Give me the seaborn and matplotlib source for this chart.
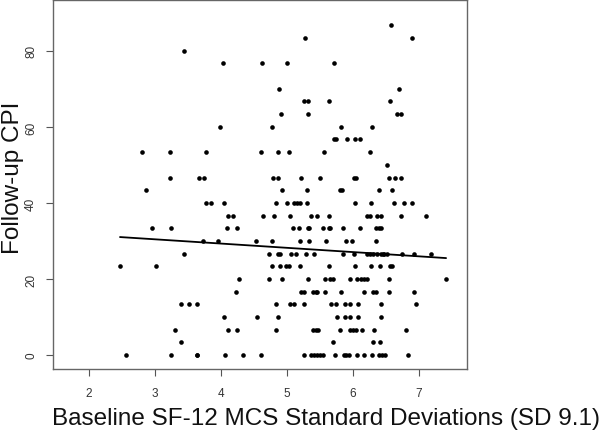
import matplotlib
matplotlib.use("Agg")
import matplotlib.pyplot as plt
import seaborn as sns
import pandas as pd

# --- data: baseline MCS (SD units) for each follow-up CPI level ---
cpi_levels = [86.7, 83.3, 80.0, 76.7, 70.0, 66.7, 63.3, 60.0, 56.7, 53.3, 50.0,
              46.7, 43.3, 40.0, 36.7, 33.3, 30.0, 26.7, 23.3, 20.0, 16.7,
              13.3, 10.0, 6.67, 3.33, 0.0]

mcs_by_level = [
    [6.57],
    [5.28, 6.90],
    [3.44],
    [4.03, 4.62, 5.00, 5.71],
    [4.88, 6.69],
    [5.26, 5.32, 5.64, 6.56],
    [4.91, 5.32, 6.67, 6.73],
    [3.99, 4.78, 5.82, 6.29],
    [5.71, 5.74, 5.91, 6.03, 6.11],
    [2.80, 3.23, 3.77, 4.61, 4.87, 5.03, 5.56, 6.25],
    [6.51],
    [3.22, 3.66, 3.75, 4.79, 4.86, 5.21, 5.50, 6.02, 6.05, 6.55, 6.64, 6.72],
    [2.86, 4.93, 5.31, 5.80, 5.83, 6.40, 6.59],
    [3.78, 3.85, 4.04, 4.84, 5.00, 5.11, 5.15, 5.19, 5.31, 6.03, 6.28, 6.62,
     6.77, 6.90],
    [4.10, 4.18, 4.63, 4.80, 5.05, 5.36, 5.46, 5.63, 6.21, 6.25, 6.36, 6.43,
     6.73, 7.11],
    [2.95, 3.24, 4.09, 4.25, 5.09, 5.18, 5.32, 5.34, 5.54, 5.63, 5.65, 5.85,
     6.10, 6.35, 6.39, 6.42],
    [3.72, 3.95, 4.53, 4.77, 5.20, 5.34, 5.59, 5.90, 5.99, 6.35],
    [3.44, 4.72, 4.87, 4.89, 5.06, 5.13, 5.29, 5.41, 5.85, 6.01, 6.21, 6.26,
     6.31, 6.36, 6.42, 6.45, 6.47, 6.52, 6.74, 6.92, 7.18],
    [2.47, 3.02, 4.77, 4.89, 4.99, 5.03, 5.20, 5.64, 6.03, 6.28, 6.41, 6.56,
     6.59],
    [4.27, 4.72, 4.92, 5.32, 5.57, 5.65, 5.70, 5.96, 6.06, 6.12, 6.16, 6.21,
     6.55, 7.41],
    [4.23, 5.21, 5.26, 5.40, 5.44, 5.46, 5.58, 5.82, 6.16, 6.31, 6.35, 6.55,
     6.92],
    [3.40, 3.52, 3.64, 4.84, 5.05, 5.11, 5.26, 5.66, 5.74, 5.88, 5.96, 6.08,
     6.42, 6.95],
    [4.04, 4.55, 4.87, 5.75, 5.88, 5.96, 6.08, 6.43],
    [3.31, 4.10, 4.25, 4.84, 5.40, 5.44, 5.47, 5.80, 5.95, 6.00, 6.05, 6.14,
     6.32, 6.81],
    [3.40, 5.70, 6.30, 6.41],
    [2.56, 3.24, 3.63, 3.64, 4.06, 4.33, 4.61, 5.26, 5.37, 5.41, 5.45, 5.50,
     5.54, 5.73, 5.86, 5.90, 5.94, 6.06, 6.16, 6.29, 6.39, 6.44, 6.49, 6.84],
]

# fitted line from the original model
fit_intercept = 33.8
fit_slope = -1.12

x_ticks = [2, 3, 4, 5, 6, 7]
y_ticks = [0, 20, 40, 60, 80]

rows = []
for level, xs in zip(cpi_levels, mcs_by_level):
    for v in xs:
        rows.append({"mcs": v, "cpi": level})
df = pd.DataFrame(rows)

line_x = [df["mcs"].min(), df["mcs"].max()]
line_df = pd.DataFrame({"mcs": line_x,
                        "cpi": [fit_intercept + fit_slope * v for v in line_x]})

# --- plot ---
sns.set_style("white")
plt.rcParams["font.family"] = ["Liberation Sans", "DejaVu Sans"]

fig = plt.figure(figsize=(6.13, 4.35), dpi=100)
ax = fig.add_axes([53 / 613, 1 - 370 / 435, 414 / 613, 369 / 435])

sns.scatterplot(data=df, x="mcs", y="cpi", color="black", s=11,
                linewidth=0, ax=ax)
sns.lineplot(data=line_df, x="mcs", y="cpi", color="black", linewidth=1.3,
             ax=ax)

ax.set_xlim(1.455, 7.727)
ax.set_ylim(-3.68, 93.4)
ax.set_xticks(x_ticks)
ax.set_yticks(y_ticks)
ax.tick_params(axis="both", direction="out", length=5, width=0.8,
               color="#555555", labelsize=8.5, labelcolor="#333333",
               bottom=True, left=True)
ax.tick_params(axis="x", pad=8)
ax.tick_params(axis="y", pad=6.5)
for lab in ax.get_yticklabels():
    lab.set_rotation(90)
    lab.set_va("center")

for side in ["left", "right", "top", "bottom"]:
    ax.spines[side].set_color("#666666")
    ax.spines[side].set_linewidth(1.0)

ax.set_xlabel("")
ax.set_ylabel("")
fig.text(326 / 613, 1 - 419 / 435,
         "Baseline SF-12 MCS Standard Deviations (SD 9.1)",
         fontsize=17.5, color="#111111", ha="center", va="center")
fig.text(13 / 613, 1 - 178 / 435, "Follow-up CPI", fontsize=17.5,
         color="#111111", ha="center", va="center", rotation=90)

fig.savefig("out.png", dpi=100)
